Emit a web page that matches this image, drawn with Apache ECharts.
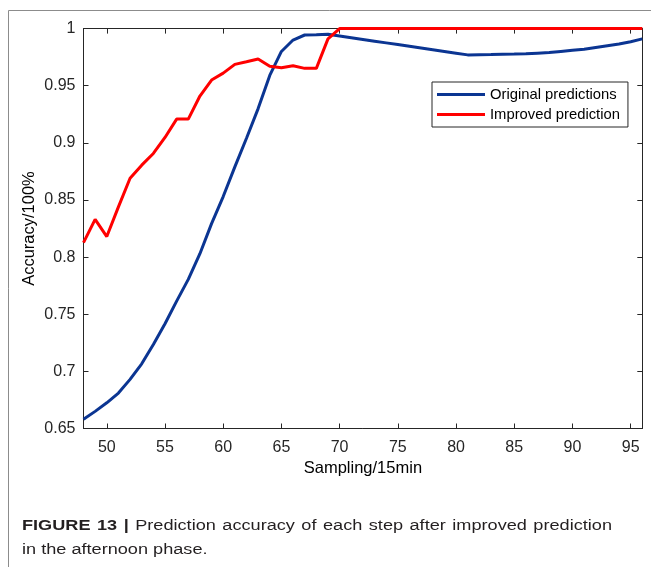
<!DOCTYPE html>
<html><head><meta charset="utf-8">
<script src="https://cdn.jsdelivr.net/npm/echarts@6/dist/echarts.min.js"></script>
<style>html,body{margin:0;padding:0;background:#fff}#c{width:651px;height:567px}</style>
</head><body><div id="c"></div>
<script>
var sampling = [48,49,50,51,52,53,54,55,56,57,58,59,60,61,62,63,64,65,66,67,68,69,70,71,72,73,74,75,76,77,78,79,80,81,82,83,84,85,86,87,88,89,90,91,92,93,94,95,96];
var original = [0.658,0.665,0.6725,0.681,0.693,0.7066,0.7236,0.7417,0.7615,0.7805,0.803,0.8293,0.853,0.879,0.904,0.930,0.959,0.980,0.990,0.9944,0.9946,0.995,0.9935,
  0.992,0.9905,0.989,0.9875,0.986,0.9845,0.983,0.9815,0.980,0.9785,0.977,0.9772,0.9773,0.9775,0.9777,0.978,0.9785,0.979,0.980,0.981,0.982,0.9835,0.985,0.9865,0.9885,0.991];
var improved = [0.8127,0.833,0.818,0.844,0.869,0.8805,0.8907,0.9047,0.9208,0.9208,0.941,0.955,0.961,0.9687,0.971,0.9734,0.967,0.9658,0.9675,0.9652,0.9652,0.991,1,
  1,1,1,1,1,1,1,1,1,1,1,1,1,1,1,1,1,1,1,1,1,1,1,1,1,1];
var xTicks = [50,55,60,65,70,75,80,85,90,95];
var seriesNames = ['Original predictions','Improved prediction'];
var xName = 'Sampling/15min';
var yName = 'Accuracy/100%';
var captionBoldWords = ['FIGURE', '13', '|'];
var captionLine1Words = ['Prediction','accuracy','of','each','step','after','improved','prediction'];
var captionLine2 = 'in the afternoon phase.';

function pairs(xs, ys){ return xs.map(function(x,i){ return [x, ys[i]]; }); }

var font = 'Liberation Sans, Arial, Helvetica, sans-serif';
var capSize = 15.5, capColor = '#231f20', capSX = 1.17;
var axisCol = '#262626';

// justified first caption line (as in the journal layout)
var mctx = document.createElement('canvas').getContext('2d');
function measure(t, bold){ mctx.font = (bold ? 'bold ' : '') + capSize + 'px ' + font; return mctx.measureText(t).width * capSX; }
var capLeft = 22, capRight = 612, capY1 = 518, capY2 = 542;
var words = captionBoldWords.map(function(w){return {t:w,b:true};}).concat(captionLine1Words.map(function(w){return {t:w,b:false};}));
var totalW = 0; words.forEach(function(w){ w.w = measure(w.t, w.b); totalW += w.w; });
var gap = (capRight - capLeft - totalW) / (words.length - 1);
var capGraphics = [];
var cx = capLeft;
words.forEach(function(w){
  capGraphics.push({type:'text', x:cx, y:capY1, scaleX:capSX, silent:true, style:{text:w.t, fontSize:capSize, fontWeight:w.b?'bold':'normal', fill:capColor, fontFamily:font}});
  cx += w.w + gap;
});
capGraphics.push({type:'text', x:capLeft, y:capY2, scaleX:capSX, silent:true, style:{text:captionLine2, fontSize:capSize, fill:capColor, fontFamily:font}});

var chart = echarts.init(document.getElementById('c'), null, {renderer:'canvas'});
chart.setOption({
  animation:false,
  backgroundColor:'#fff',
  textStyle:{fontFamily:font},
  grid:{left:83.5, top:28.6, right:8.7, bottom:138.5, containLabel:false},
  legend:{
    orient:'vertical', left:432, top:82,
    data:seriesNames,
    icon:'rect', itemWidth:48, itemHeight:3, itemGap:5,
    padding:[5,8,5,5],
    borderColor:'#262626', borderWidth:1, backgroundColor:'#fff',
    textStyle:{fontSize:14.8, color:'#000', fontFamily:font}
  },
  xAxis:[{
    type:'value', min:48, max:96, position:'bottom',
    name:xName, nameLocation:'middle', nameGap:31, nameMoveOverlap:false,
    nameTextStyle:{fontSize:16.5, color:'#000'},
    axisLine:{show:true, onZero:false, lineStyle:{color:axisCol, width:1}},
    axisTick:{show:true, inside:true, length:5, customValues:xTicks, lineStyle:{color:axisCol}},
    axisLabel:{show:true, customValues:xTicks, fontSize:16, color:'#262626', margin:11},
    splitLine:{show:false}
  },{
    type:'value', min:48, max:96, position:'top',
    axisLine:{show:true, onZero:false, lineStyle:{color:axisCol, width:1}},
    axisTick:{show:true, inside:true, length:5, customValues:xTicks, lineStyle:{color:axisCol}},
    axisLabel:{show:false}, splitLine:{show:false}
  }],
  yAxis:[{
    type:'value', min:0.65, max:1, interval:0.05, position:'left',
    name:yName, nameLocation:'middle', nameGap:46, nameMoveOverlap:false,
    nameTextStyle:{fontSize:16.5, color:'#000'},
    axisLine:{show:true, onZero:false, lineStyle:{color:axisCol, width:1}},
    axisTick:{show:true, inside:true, length:5, lineStyle:{color:axisCol}},
    axisLabel:{fontSize:16, color:'#262626', margin:8, formatter:function(v){return String(Math.round(v*100)/100);}},
    splitLine:{show:false}
  },{
    type:'value', min:0.65, max:1, interval:0.05, position:'right',
    axisLine:{show:true, onZero:false, lineStyle:{color:axisCol, width:1}},
    axisTick:{show:true, inside:true, length:5, lineStyle:{color:axisCol}},
    axisLabel:{show:false}, splitLine:{show:false}
  }],
  series:[{
    name:seriesNames[0], type:'line', xAxisIndex:0, yAxisIndex:0,
    data:pairs(sampling, original), showSymbol:false, symbol:'none',
    lineStyle:{color:'#0b3592', width:3}, itemStyle:{color:'#0b3592'}
  },{
    name:seriesNames[1], type:'line', xAxisIndex:0, yAxisIndex:0,
    data:pairs(sampling, improved), showSymbol:false, symbol:'none',
    lineStyle:{color:'#ff0000', width:3}, itemStyle:{color:'#ff0000'}, z:3
  }],
  graphic:[
    {type:'line', shape:{x1:8.5, y1:10.5, x2:651, y2:10.5}, style:{stroke:'#8c8c8c', lineWidth:1}, silent:true},
    {type:'line', shape:{x1:8.5, y1:10.5, x2:8.5, y2:567}, style:{stroke:'#8c8c8c', lineWidth:1}, silent:true}
  ].concat(capGraphics)
});
</script></body></html>
